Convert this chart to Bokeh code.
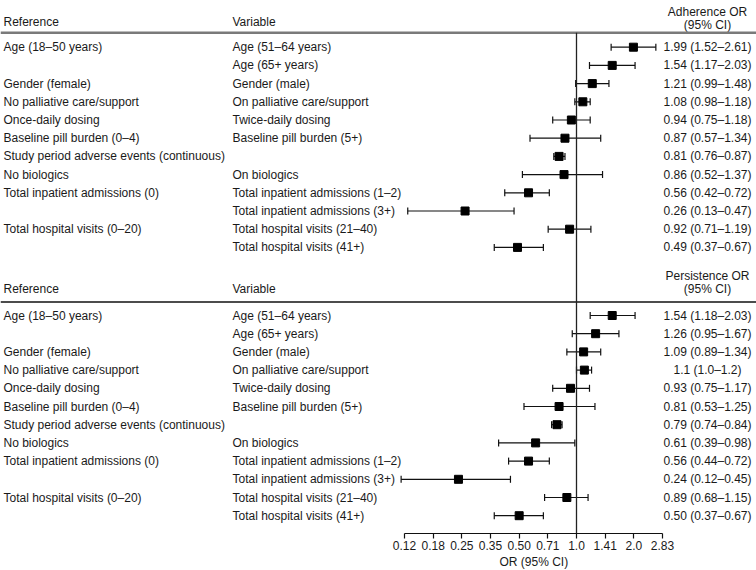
import math
from bokeh.plotting import figure
from bokeh.models import (Range1d, FixedTicker, ColumnDataSource, Whisker,
                          TeeHead, LinearScale, Title)
from bokeh.embed import file_html
from bokeh.resources import INLINE
from bokeh.core.properties import value

# ---------------- data ----------------
reference = ["Age (18–50 years)", "", "Gender (female)", "No palliative care/support",
             "Once-daily dosing", "Baseline pill burden (0–4)",
             "Study period adverse events (continuous)", "No biologics",
             "Total inpatient admissions (0)", "", "Total hospital visits (0–20)", ""]
variable = ["Age (51–64 years)", "Age (65+ years)", "Gender (male)",
            "On palliative care/support", "Twice-daily dosing", "Baseline pill burden (5+)",
            "", "On biologics", "Total inpatient admissions (1–2)",
            "Total inpatient admissions (3+)", "Total hospital visits (21–40)",
            "Total hospital visits (41+)"]

adh_or = [1.99, 1.54, 1.21, 1.08, 0.94, 0.87, 0.81, 0.86, 0.56, 0.26, 0.92, 0.49]
adh_lo = [1.52, 1.17, 0.99, 0.98, 0.75, 0.57, 0.76, 0.52, 0.42, 0.13, 0.71, 0.37]
adh_hi = [2.61, 2.03, 1.48, 1.18, 1.18, 1.34, 0.87, 1.37, 0.72, 0.47, 1.19, 0.67]
adh_txt = ["1.99 (1.52–2.61)", "1.54 (1.17–2.03)", "1.21 (0.99–1.48)", "1.08 (0.98–1.18)",
           "0.94 (0.75–1.18)", "0.87 (0.57–1.34)", "0.81 (0.76–0.87)", "0.86 (0.52–1.37)",
           "0.56 (0.42–0.72)", "0.26 (0.13–0.47)", "0.92 (0.71–1.19)", "0.49 (0.37–0.67)"]

per_or = [1.54, 1.26, 1.09, 1.10, 0.93, 0.81, 0.79, 0.61, 0.56, 0.24, 0.89, 0.50]
per_lo = [1.18, 0.95, 0.89, 1.00, 0.75, 0.53, 0.74, 0.39, 0.44, 0.12, 0.68, 0.37]
per_hi = [2.03, 1.67, 1.34, 1.20, 1.17, 1.25, 0.84, 0.98, 0.72, 0.45, 1.15, 0.67]
per_txt = ["1.54 (1.18–2.03)", "1.26 (0.95–1.67)", "1.09 (0.89–1.34)", "1.1 (1.0–1.2)",
           "0.93 (0.75–1.17)", "0.81 (0.53–1.25)", "0.79 (0.74–0.84)", "0.61 (0.39–0.98)",
           "0.56 (0.44–0.72)", "0.24 (0.12–0.45)", "0.89 (0.68–1.15)", "0.50 (0.37–0.67)"]

tick_values = [0.125, 0.1768, 0.25, 0.3536, 0.5, 0.7071, 1.0, 1.4142, 2.0, 2.8284]
tick_labels = ["0.12", "0.18", "0.25", "0.35", "0.50", "0.71", "1.0", "1.41", "2.0", "2.83"]
axis_title = "OR (95% CI)"

# ---------------- layout (page-pixel space) ----------------
W, H = 756, 570
AX_L, AX_R = 404, 662      # pixel position of first / last tick
Y_BOT = 533                # axis line
ROW_STEP = 18.2
SEC = [dict(title="Adherence OR", hdr_y=32.3, t1=11.5, t2=24, ref_y=21, row0=46.7,
            o=adh_or, lo=adh_lo, hi=adh_hi, txt=adh_txt, line_color="#7a7a7a", line_w=2.5),
       dict(title="Persistence OR", hdr_y=301.5, t1=275, t2=288.3, ref_y=288.3, row0=315,
            o=per_or, lo=per_lo, hi=per_hi, txt=per_txt, line_color="#111111", line_w=1.5)]
COL_REF, COL_VAR, COL_VAL = 3, 232, 707

ppo = (AX_R - AX_L) / math.log2(tick_values[-1] / tick_values[0])
x_start = tick_values[0] * 2 ** (-AX_L / ppo)
x_end = tick_values[-1] * 2 ** ((W - AX_R) / ppo)

FONT = value("Liberation Sans")
FS = "12px"
TXT = "#1a1a1a"

p = figure(width=W, height=H, x_axis_type="log",
           x_range=Range1d(x_start, x_end), y_range=Range1d(Y_BOT, 0),
           toolbar_location=None, output_backend="svg",
           min_border_left=0, min_border_right=0, min_border_top=0,
           min_border_bottom=H - Y_BOT, y_axis_location=None)
p.extra_x_ranges = {"tbl": Range1d(0, W)}
p.extra_x_scales = {"tbl": LinearScale()}
p.grid.visible = False
p.outline_line_color = None
p.background_fill_color = "white"
p.border_fill_color = "white"

for s in SEC:
    ys = [s["row0"] + i * ROW_STEP for i in range(len(s["o"]))]
    p.text(x=[COL_REF, COL_VAR], y=[s["ref_y"]] * 2, text=["Reference", "Variable"],
           x_range_name="tbl", text_font=FONT, text_font_size=FS, text_color=TXT,
           text_baseline="middle", text_align="left")
    p.text(x=[COL_VAL, COL_VAL], y=[s["t1"], s["t2"]], text=[s["title"], "(95% CI)"],
           x_range_name="tbl", text_font=FONT, text_font_size=FS, text_color=TXT,
           text_baseline="middle", text_align="center")
    p.segment(x0=[0], x1=[W], y0=[s["hdr_y"]], y1=[s["hdr_y"]], x_range_name="tbl",
              line_color=s["line_color"], line_width=s["line_w"])
    p.text(x=[COL_REF] * len(ys), y=ys, text=reference, x_range_name="tbl",
           text_font=FONT, text_font_size=FS, text_color=TXT,
           text_baseline="middle", text_align="left")
    p.text(x=[COL_VAR] * len(ys), y=ys, text=variable, x_range_name="tbl",
           text_font=FONT, text_font_size=FS, text_color=TXT,
           text_baseline="middle", text_align="left")
    p.text(x=[COL_VAL] * len(ys), y=ys, text=s["txt"], x_range_name="tbl",
           text_font=FONT, text_font_size=FS, text_color=TXT,
           text_baseline="middle", text_align="center")
    src = ColumnDataSource(dict(y=ys, o=s["o"], lo=s["lo"], hi=s["hi"]))
    p.add_layout(Whisker(source=src, base="y", lower="lo", upper="hi", dimension="width",
                         line_color="#111111", line_width=1.2,
                         lower_head=TeeHead(size=7, line_color="#111111", line_width=1.2),
                         upper_head=TeeHead(size=7, line_color="#111111", line_width=1.2)))
    p.scatter(x="o", y="y", source=src, marker="square", size=8,
              fill_color="black", line_color="black")

# null-effect line
p.segment(x0=[1.0], x1=[1.0], y0=[SEC[0]["hdr_y"]], y1=[Y_BOT],
          line_color="#222222", line_width=1.3)

ax = p.xaxis[0]
ax.ticker = FixedTicker(ticks=tick_values)
ax.major_label_overrides = dict(zip(tick_values, tick_labels))
ax.bounds = (tick_values[0], tick_values[-1])
ax.major_label_text_font = "Liberation Sans"
ax.major_label_text_font_size = FS
ax.major_label_text_color = TXT
ax.major_label_standoff = 2
ax.major_tick_in = 0
ax.major_tick_out = 5
ax.minor_tick_line_color = None
ax.axis_line_color = "#111111"
ax.major_tick_line_color = "#111111"
ax.axis_line_width = 1.2
ax.major_tick_line_width = 1.2

# axis title, centred under the drawn axis span (title panel below the axis)
p.add_layout(Title(text=axis_title, align="left", offset=(AX_L + AX_R) / 2 - 34,
                   standoff=0, text_font="Liberation Sans", text_font_size=FS,
                   text_font_style="normal", text_color=TXT), "below")

open("out.html", "w").write(file_html(p, INLINE))
